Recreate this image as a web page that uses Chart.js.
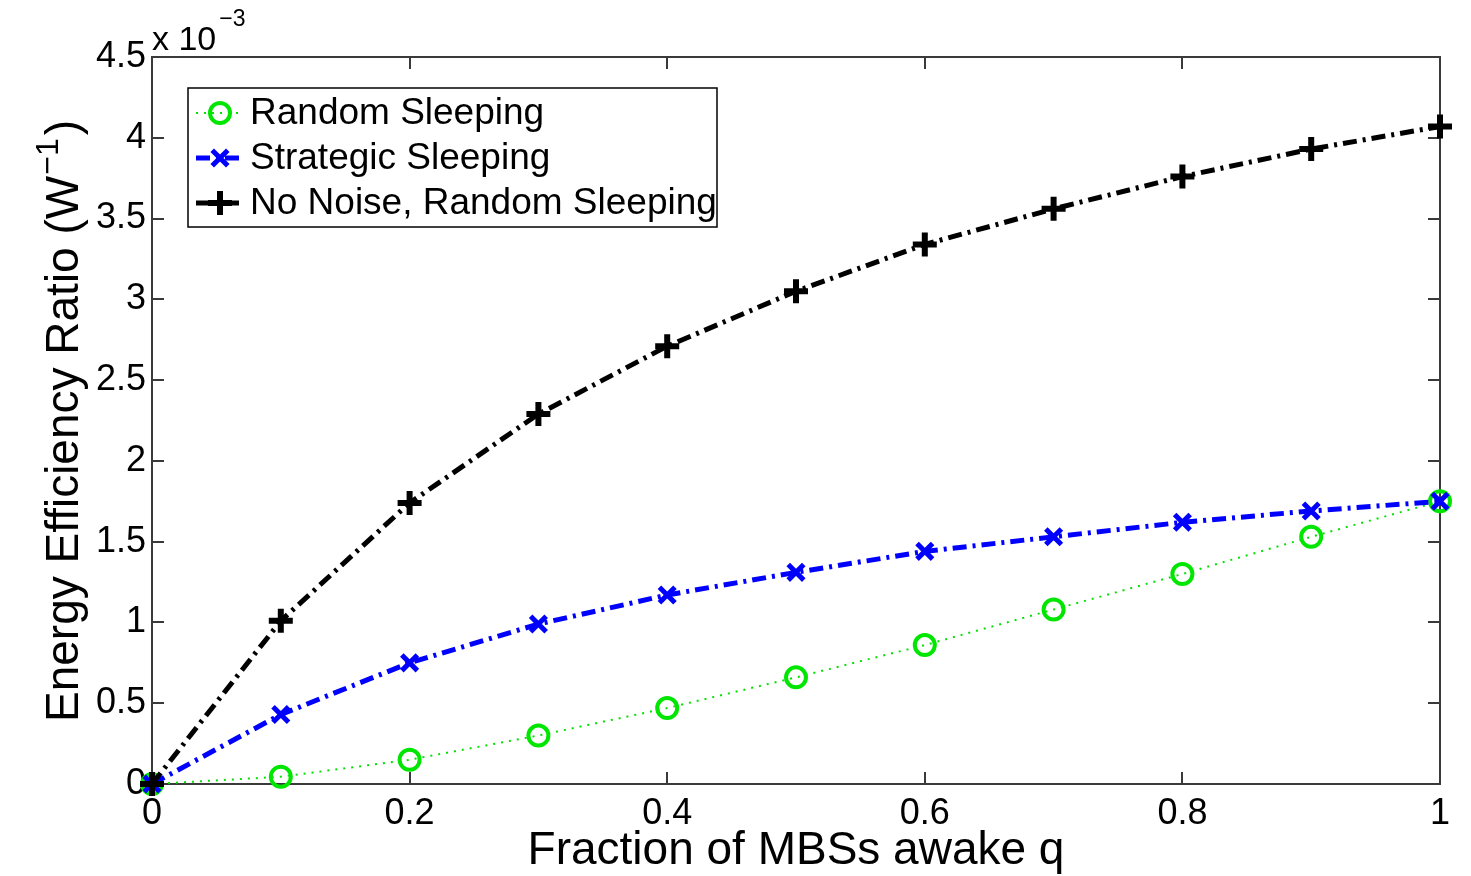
<!DOCTYPE html>
<html>
<head>
<meta charset="utf-8">
<script src="https://cdn.jsdelivr.net/npm/chart.js@4/dist/chart.umd.min.js"></script>
<style>
  html, body { margin: 0; padding: 0; background: #fff; }
  #wrap { width: 1471px; height: 876px; }
</style>
</head>
<body>
<div id="wrap"><canvas id="effChart" width="1471" height="876"></canvas></div>
<script>
// ─── Data (values in units of 1e-3 W^-1) ──────
const fractionAwake     = [0, 0.1, 0.2, 0.3, 0.4, 0.5, 0.6, 0.7, 0.8, 0.9, 1.0];
const randomSleeping    = [0, 0.045, 0.15, 0.30, 0.47, 0.66, 0.86, 1.08, 1.30, 1.53, 1.75];
const strategicSleeping = [0, 0.43, 0.75, 0.99, 1.17, 1.31, 1.44, 1.53, 1.62, 1.69, 1.75];
const noNoiseRandom     = [0, 1.01, 1.74, 2.29, 2.71, 3.05, 3.34, 3.56, 3.76, 3.93, 4.07];
const seriesNames = ['Random Sleeping', 'Strategic Sleeping', 'No Noise, Random Sleeping'];
const xTicks = [0, 0.2, 0.4, 0.6, 0.8, 1];
const yTicks = [0, 0.5, 1, 1.5, 2, 2.5, 3, 3.5, 4, 4.5];

const FONT = '"Liberation Sans", Arial, Helvetica, sans-serif';
const AXIS_COLOR = '#3a3a3a';

function pts(ys) { return fractionAwake.map((x, i) => ({ x, y: ys[i] })); }

// ─── marker drawing shared by legend ──────
function marker(ctx, ds, cx, cy) {
  const r = ds.pointRadius;
  ctx.save();
  ctx.strokeStyle = ds.pointBorderColor;
  ctx.lineWidth = ds.pointBorderWidth;
  ctx.setLineDash([]);
  ctx.beginPath();
  if (ds.pointStyle === 'circle') {
    ctx.arc(cx, cy, r, 0, Math.PI * 2);
  } else if (ds.pointStyle === 'cross') {
    ctx.moveTo(cx - r, cy); ctx.lineTo(cx + r, cy);
    ctx.moveTo(cx, cy - r); ctx.lineTo(cx, cy + r);
  } else {
    const o = r * Math.SQRT1_2;
    ctx.moveTo(cx - o, cy - o); ctx.lineTo(cx + o, cy + o);
    ctx.moveTo(cx - o, cy + o); ctx.lineTo(cx + o, cy - o);
  }
  ctx.stroke();
  ctx.restore();
}

// ─── Axes box, inward ticks, exponent, y title, legend ──────
const matlabDecor = {
  id: 'matlabDecor',
  beforeDatasetsDraw(chart) {
    const { ctx, chartArea: a, scales: { x, y } } = chart;
    ctx.save();
    ctx.strokeStyle = AXIS_COLOR;
    ctx.lineWidth = 2;
    ctx.strokeRect(a.left, a.top, a.right - a.left, a.bottom - a.top);
    const tl = 12;
    ctx.beginPath();
    xTicks.forEach(v => {
      const px = Math.round(x.getPixelForValue(v));
      ctx.moveTo(px, a.bottom); ctx.lineTo(px, a.bottom - tl);
      ctx.moveTo(px, a.top);    ctx.lineTo(px, a.top + tl);
    });
    yTicks.forEach(v => {
      const py = Math.round(y.getPixelForValue(v));
      ctx.moveTo(a.left, py);  ctx.lineTo(a.left + tl, py);
      ctx.moveTo(a.right, py); ctx.lineTo(a.right - tl, py);
    });
    ctx.stroke();
    ctx.restore();
  },
  afterDraw(chart) {
    const { ctx, chartArea: a } = chart;
    ctx.save();
    ctx.fillStyle = '#000';
    ctx.textBaseline = 'alphabetic';

    // x 10^-3 multiplier
    ctx.font = `34px ${FONT}`;
    ctx.textAlign = 'left';
    ctx.fillText('x 10', a.left, 50);
    const w10 = ctx.measureText('x 10').width;
    ctx.font = `23px ${FONT}`;
    ctx.fillText('\u22123', a.left + w10 + 3, 26);

    // y title with superscript
    ctx.translate(62, 421);
    ctx.rotate(-Math.PI / 2);
    const main = 'Energy Efficiency Ratio (W', sup = '\u22121', close = ')';
    ctx.font = `46px ${FONT}`;
    const wMain = ctx.measureText(main).width, wClose = ctx.measureText(close).width;
    ctx.font = `32px ${FONT}`;
    const wSup = ctx.measureText(sup).width;
    const sx = -(wMain + wSup + wClose + 4) / 2;
    const base = 16;
    ctx.font = `46px ${FONT}`;
    ctx.fillText(main, sx, base);
    ctx.font = `32px ${FONT}`;
    ctx.fillText(sup, sx + wMain + 1, base - 20);
    ctx.font = `46px ${FONT}`;
    ctx.fillText(close, sx + wMain + wSup + 4, base);
    ctx.restore();

    // legend box
    ctx.save();
    const lx = 188, ly = 88, lw = 529, lh = 139;
    ctx.fillStyle = '#fff';
    ctx.fillRect(lx, ly, lw, lh);
    ctx.strokeStyle = '#000';
    ctx.lineWidth = 1.5;
    ctx.strokeRect(lx, ly, lw, lh);
    chart.data.datasets.forEach((ds, i) => {
      const cy = 113 + i * 45;
      ctx.save();
      ctx.strokeStyle = ds.borderColor;
      ctx.lineWidth = ds.borderWidth;
      ctx.setLineDash(ds.borderDash);
      ctx.beginPath();
      ctx.moveTo(196, cy); ctx.lineTo(242, cy);
      ctx.stroke();
      ctx.restore();
      marker(ctx, ds, 220, cy);
      ctx.fillStyle = '#000';
      ctx.font = `37px ${FONT}`;
      ctx.textAlign = 'left';
      ctx.textBaseline = 'middle';
      ctx.fillText(seriesNames[i], 250, cy + 1);
    });
    ctx.restore();
  }
};

new Chart(document.getElementById('effChart'), {
  type: 'line',
  data: {
    datasets: [
      {
        label: seriesNames[0], data: pts(randomSleeping), order: 3,
        borderColor: 'rgb(0,225,0)', borderWidth: 2, borderDash: [2, 6],
        pointStyle: 'circle', pointRadius: 10, pointBorderWidth: 4,
        pointBorderColor: 'rgb(0,230,0)', pointBackgroundColor: 'rgba(0,0,0,0)',
        tension: 0, clip: false,
      },
      {
        label: seriesNames[1], data: pts(strategicSleeping), order: 2,
        borderColor: 'rgb(0,0,255)', borderWidth: 5, borderDash: [14, 6, 3, 6],
        pointStyle: 'crossRot', pointRadius: 11, pointBorderWidth: 5,
        pointBorderColor: 'rgb(0,0,255)', pointBackgroundColor: 'rgb(0,0,255)',
        tension: 0, clip: false,
      },
      {
        label: seriesNames[2], data: pts(noNoiseRandom), order: 1,
        borderColor: '#000', borderWidth: 5, borderDash: [14, 6, 3, 6],
        pointStyle: 'cross', pointRadius: 12, pointBorderWidth: 6,
        pointBorderColor: '#000', pointBackgroundColor: '#000',
        tension: 0, clip: false,
      },
    ],
  },
  options: {
    responsive: false,
    animation: false,
    devicePixelRatio: 1,
    layout: { padding: { top: 57, right: 31, left: 0, bottom: 0 } },
    plugins: { legend: { display: false }, tooltip: { enabled: false } },
    scales: {
      x: {
        type: 'linear', min: 0, max: 1,
        afterBuildTicks: s => { s.ticks = xTicks.map(v => ({ value: v })); },
        afterFit: s => { s.height = 92; },
        grid: { display: false, drawTicks: false },
        border: { display: false },
        ticks: { color: '#000', padding: 8, maxRotation: 0, callback: v => String(v),
                 font: { family: FONT, size: 36 } },
        title: { display: true, text: 'Fraction of MBSs awake q', color: '#000',
                 font: { family: FONT, size: 46, lineHeight: 1 }, padding: { top: 0, bottom: 2 } },
      },
      y: {
        type: 'linear', min: 0, max: 4.5,
        afterBuildTicks: s => { s.ticks = yTicks.map(v => ({ value: v })); },
        afterFit: s => { s.width = 152; },
        grid: { display: false, drawTicks: false },
        border: { display: false },
        ticks: { color: '#000', padding: 6, callback: v => String(v),
                 font: { family: FONT, size: 36 } },
      },
    },
  },
  plugins: [matlabDecor],
});
</script>
</body>
</html>
